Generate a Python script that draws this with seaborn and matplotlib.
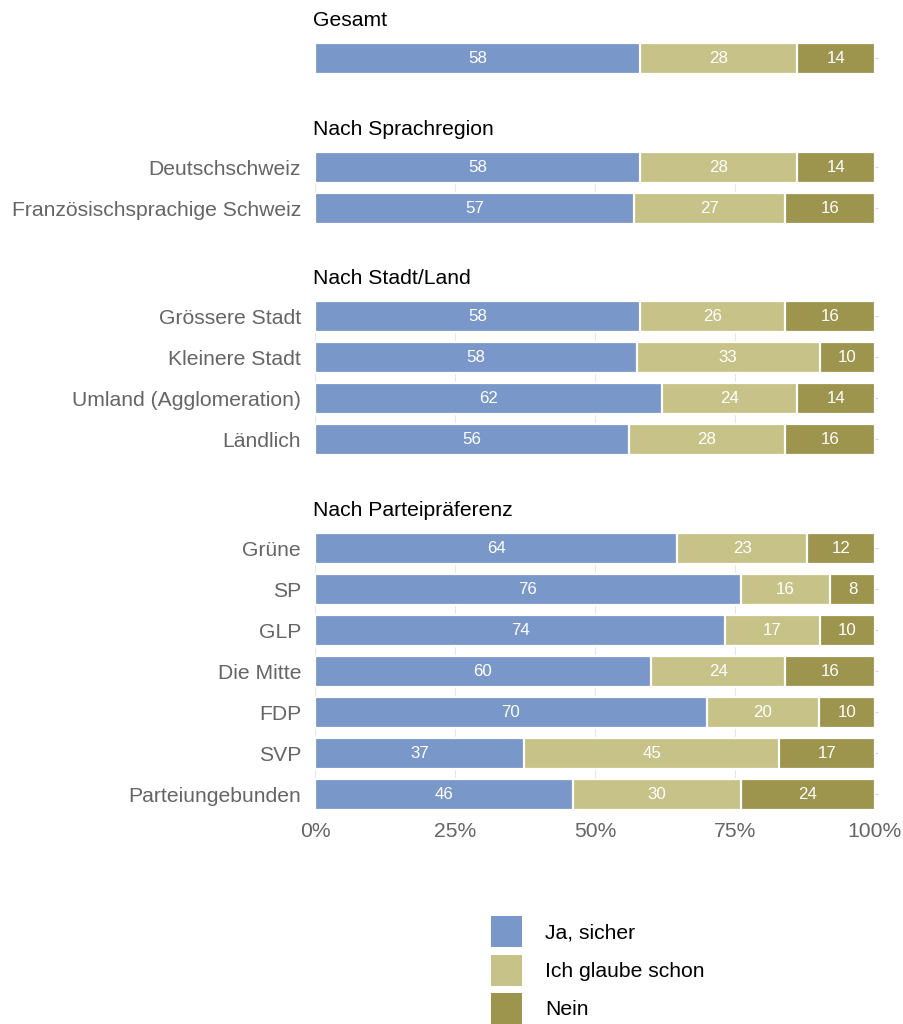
import matplotlib
matplotlib.use("Agg")
import matplotlib.pyplot as plt
from matplotlib.patches import Patch
import numpy as np
import pandas as pd
import seaborn as sns

# Survey answers and their colours
answers = ["Ja, sicher", "Ich glaube schon", "Nein"]
answer_colors = ["#7a97c9", "#c7c287", "#9d944e"]

# Row groups, in drawing order
group_titles = ["Gesamt", "Nach Sprachregion", "Nach Stadt/Land", "Nach Parteipräferenz"]
row_group = (["Gesamt"]
             + ["Nach Sprachregion"] * 2
             + ["Nach Stadt/Land"] * 4
             + ["Nach Parteipräferenz"] * 7)
row_labels = ["Gesamt",
              "Deutschschweiz", "Französischsprachige Schweiz",
              "Grössere Stadt", "Kleinere Stadt", "Umland (Agglomeration)", "Ländlich",
              "Grüne", "SP", "GLP", "Die Mitte", "FDP", "SVP", "Parteiungebunden"]

# Percentages per answer
ja_sicher = [58, 58, 57, 58, 58, 62, 56, 64, 76, 74, 60, 70, 37, 46]
glaube_schon = [28, 28, 27, 26, 33, 24, 28, 23, 16, 17, 24, 20, 45, 30]
nein = [14, 14, 16, 16, 10, 14, 16, 12, 8, 10, 16, 10, 17, 24]

x_ticks = [0, 25, 50, 75, 100]
x_tick_labels = ["0%", "25%", "50%", "75%", "100%"]

df = pd.DataFrame({"group": row_group, "label": row_labels,
                   "a": ja_sicher, "b": glaube_schon, "c": nein})
total = df[["a", "b", "c"]].sum(axis=1)
for col in ["a", "b", "c"]:
    df[col + "_share"] = df[col] / total * 100
df["cum1"] = df["a_share"]
df["cum2"] = df["a_share"] + df["b_share"]
df["cum3"] = df["cum2"] + df["c_share"]

sns.set_theme(style="white")
plt.rcParams["font.family"] = ["Liberation Sans", "DejaVu Sans"]

W, H = 904, 1024
fig = plt.figure(figsize=(W / 100, H / 100), dpi=100)

ROW = 41.0          # pixel pitch of one row
BAR = 0.75          # bar thickness in row units
LEFT, RIGHT = 315, 875
tops = [43, 152, 301, 533]
label_grey = "#656565"
FS = 15.2

axes = []
for gi, (title, top) in enumerate(zip(group_titles, tops)):
    sub = df[df["group"] == title].reset_index(drop=True)
    n = len(sub)
    h = (n - 1 + BAR) * ROW
    ax = fig.add_axes([LEFT / W, 1 - (top + h) / H, (RIGHT - LEFT) / W, h / H])
    axes.append(ax)
    order = list(sub["label"])
    # stacked bars: draw the cumulative totals from the outermost segment inward
    for cum, col in zip(["cum3", "cum2", "cum1"], answer_colors[::-1]):
        sns.barplot(data=sub, y="label", x=cum, order=order, orient="h",
                    color=col, saturation=1, width=BAR, errorbar=None,
                    edgecolor="white", linewidth=1.6, ax=ax, zorder=2)
    # value labels centred in each segment
    for i, r in sub.iterrows():
        starts = [0, r["cum1"], r["cum2"]]
        shares = [r["a_share"], r["b_share"], r["c_share"]]
        vals = [r["a"], r["b"], r["c"]]
        for s, w, v in zip(starts, shares, vals):
            ax.text(s + w / 2, i, f"{int(v)}", ha="center", va="center",
                    color="white", fontsize=12.2, zorder=3)
    ax.set_xlim(0, 100)
    ax.set_ylim(n - 1 + BAR / 2, -BAR / 2)
    ax.set_xlabel("")
    ax.set_ylabel("")
    ax.set_xticks(x_ticks)
    ax.grid(axis="x", color="#e6e6e6", linewidth=0.8, zorder=0)
    ax.set_axisbelow(True)
    for sp in ax.spines.values():
        sp.set_visible(False)
    ax.tick_params(axis="y", left=False, right=True, labelleft=True, labelright=False,
                   length=2.5, width=0.6, color="#c8c8c8", pad=7.5,
                   labelsize=FS, labelcolor=label_grey)
    if title == "Gesamt":
        ax.set_yticklabels([""])
    if gi == len(group_titles) - 1:
        ax.set_xticklabels(x_tick_labels)
        ax.tick_params(axis="x", bottom=False, length=0, pad=9,
                       labelsize=FS, labelcolor=label_grey)
    else:
        ax.tick_params(axis="x", bottom=False, labelbottom=False)
    ax.set_title(title, loc="left", fontsize=FS, color="black", pad=12, x=-0.004)

handles = [Patch(facecolor=c, edgecolor="none") for c in answer_colors]
fig.legend(handles, answers, loc="upper left",
           bbox_to_anchor=(491 / W, 1 - 916 / H), frameon=False,
           fontsize=FS, labelcolor="black", handlelength=1.49, handleheight=1.885,
           labelspacing=0.355, handletextpad=1.06, borderpad=0.0,
           borderaxespad=0.0)

fig.savefig("out.png", dpi=100)
